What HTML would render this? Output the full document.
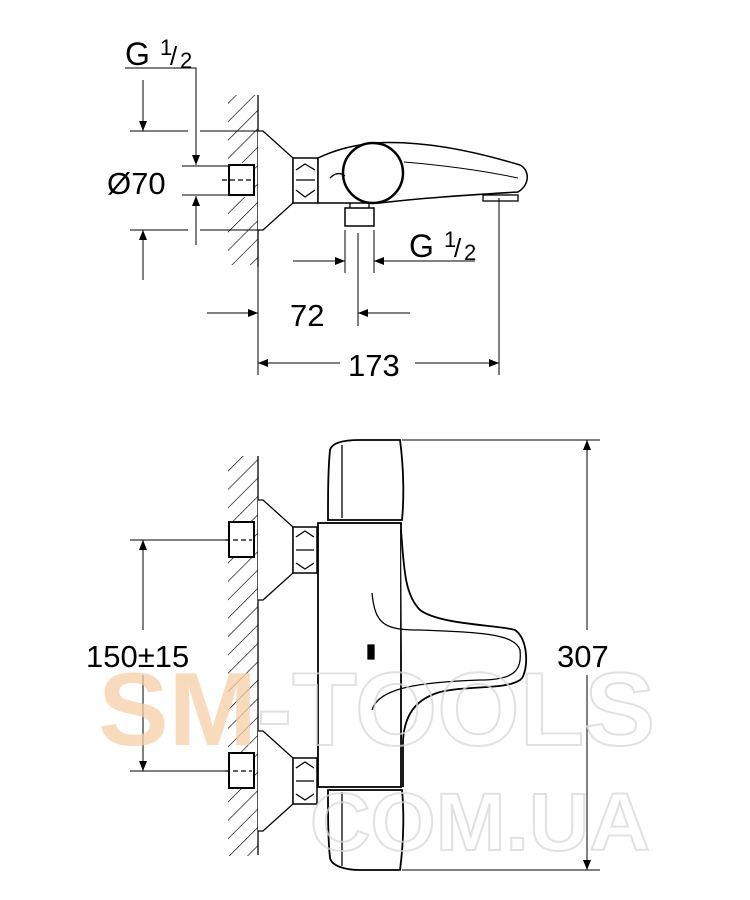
<!DOCTYPE html>
<html><head><meta charset="utf-8"><style>html,body{margin:0;padding:0;background:#fff}svg{display:block}</style></head>
<body>
<svg width="750" height="900" viewBox="0 0 750 900" xmlns="http://www.w3.org/2000/svg">
<defs>
<marker id="a" viewBox="0 0 10 10" refX="10" refY="5" markerWidth="14" markerHeight="10" markerUnits="userSpaceOnUse" orient="auto"><path d="M0,1 L10,5 L0,9 Z" fill="#000"/></marker>
<pattern id="h" width="13" height="13" patternUnits="userSpaceOnUse" patternTransform="rotate(45)"><line x1="0" y1="0" x2="0" y2="13" stroke="#000" stroke-width="1.3"/></pattern>
</defs>
<g fill="none" stroke="#000" stroke-width="1.3">
<!-- TOP VIEW -->
<rect x="228" y="95" width="30" height="170" fill="url(#h)" stroke="none"/>
<rect x="229" y="163" width="26" height="34" fill="#fff" stroke="none"/>
<line x1="258" y1="95" x2="258" y2="267"/>
<path d="M258,131 H263 L293,158 V203 L263,230 H258" fill="#fff"/>
<rect x="229" y="165" width="25" height="30" stroke-width="2" fill="#fff"/>
<line x1="222" y1="180" x2="252" y2="180" stroke-dasharray="5,3"/>
<rect x="293" y="158" width="25" height="45" fill="#fff" stroke-width="1.5"/>
<path d="M296,170 L305,164 L315,170 M296,190 L305,197 L315,190 M296,180 H315"/>
<path d="M318,158 C335,150 350,146 373,143 C420,140 470,150 520,165 C530,170 530,185 518,192 C470,195 420,198 380,203 L318,203 Z" fill="#fff" stroke-width="1.5"/>
<circle cx="373" cy="173" r="30" stroke-width="2.5" fill="#fff"/>
<path d="M330,178 C335,173 340,172 345,176"/>
<path d="M404,162 C440,165 480,170 518,178" stroke-width="1"/>
<rect x="345" y="208" width="29" height="18" stroke-width="1.5" fill="#fff"/>
<path d="M350,203 V208 M369,203 V208"/>
<rect x="483" y="195" width="35" height="6" fill="#fff"/>
<!-- dims top -->
<path d="M125,68 H196 V165" marker-end="url(#a)" stroke-width="1"/>
<g stroke-width="1">
<line x1="143" y1="80" x2="143" y2="131" marker-end="url(#a)"/>
<line x1="143" y1="280" x2="143" y2="230" marker-end="url(#a)"/>
<line x1="130" y1="131" x2="188" y2="131"/><line x1="200" y1="131" x2="260" y2="131"/>
<line x1="130" y1="230" x2="188" y2="230"/><line x1="200" y1="230" x2="260" y2="230"/>
<line x1="182" y1="166" x2="229" y2="166"/><line x1="182" y1="195" x2="229" y2="195"/>
<line x1="196" y1="245" x2="196" y2="196" marker-end="url(#a)"/>
<line x1="345" y1="230" x2="345" y2="273"/><line x1="374" y1="230" x2="374" y2="273"/>
<line x1="293" y1="261" x2="345" y2="261" marker-end="url(#a)"/>
<path d="M475,261 H374" marker-end="url(#a)"/>
<line x1="258" y1="267" x2="258" y2="375"/>
<line x1="207" y1="313" x2="258" y2="313" marker-end="url(#a)"/>
<line x1="358" y1="233" x2="358" y2="326"/>
<line x1="410" y1="313" x2="358" y2="313" marker-end="url(#a)"/>
<line x1="499" y1="198" x2="499" y2="375"/>
<line x1="340" y1="363" x2="258" y2="363" marker-end="url(#a)"/>
<line x1="415" y1="363" x2="499" y2="363" marker-end="url(#a)"/>
</g>
<!-- BOTTOM VIEW -->
<rect x="228" y="456" width="30" height="400" fill="url(#h)" stroke="none"/>
<line x1="258" y1="456" x2="258" y2="855"/>
<g id="fl">
<path d="M258,500 H263 L293,527 V573 L263,600 H258" fill="#fff"/>
<rect x="229" y="522" width="25" height="35" stroke-width="2" fill="#fff"/>
<line x1="225" y1="540" x2="252" y2="540" stroke-dasharray="5,3"/>
<rect x="293" y="527" width="24" height="46" fill="#fff" stroke-width="1.5"/>
<path d="M296,537 L305,531 L314,537 M296,563 L305,569 L314,563 M296,550 H314"/>
</g>
<use href="#fl" transform="translate(0,231)"/>
<path d="M330,450 C332,442 345,440 360,440 H400 C404,470 404,500 402,520 H328 C328,495 328,470 330,450 Z" fill="#fff" stroke-width="1.8"/>
<line x1="342" y1="445" x2="342" y2="518"/>
<path d="M330,858 C332,866 345,870 360,870 H400 C404,840 404,810 402,790 H328 C328,815 328,840 330,858 Z" fill="#fff" stroke-width="1.8"/>
<line x1="342" y1="792" x2="342" y2="866"/>
<rect x="318" y="523" width="83" height="264" fill="#fff" stroke-width="1.8"/>
<path d="M401,530 C404,570 405,595 420,610 C440,625 500,625 515,630 C530,640 528,675 520,680 C505,690 470,685 440,692 C420,698 405,710 403,740 V787" fill="#fff" stroke-width="1.8"/>
<path d="M372,593 C375,625 385,630 420,630 C480,632 515,634 520,650 C522,670 515,680 480,680 C420,682 378,688 372,710"/>
<path d="M368,645 h6 v14 h-6 z" fill="#000"/>
<g stroke-width="1">
<line x1="130" y1="540" x2="228" y2="540"/><line x1="130" y1="771" x2="228" y2="771"/>
<line x1="143" y1="630" x2="143" y2="540" marker-end="url(#a)"/>
<line x1="143" y1="675" x2="143" y2="771" marker-end="url(#a)"/>
<line x1="402" y1="440" x2="600" y2="440"/><line x1="402" y1="870" x2="600" y2="870"/>
<line x1="587" y1="630" x2="587" y2="440" marker-end="url(#a)"/>
<line x1="587" y1="675" x2="587" y2="870" marker-end="url(#a)"/>
</g>
</g>
<g font-family="Liberation Sans, sans-serif" fill="#000">
<text x="125" y="65" font-size="32">G</text><text x="160" y="55" font-size="22">1</text><text x="170" y="65" font-size="26">/</text><text x="180" y="68" font-size="22">2</text>
<text x="409" y="257" font-size="32">G</text><text x="444" y="247" font-size="22">1</text><text x="454" y="257" font-size="26">/</text><text x="464" y="260" font-size="22">2</text>
<text x="107" y="194" font-size="31">Ø70</text>
<text x="290" y="326" font-size="31">72</text>
<text x="348" y="376" font-size="31">173</text>
<text x="86" y="667" font-size="31">150±15</text>
<text x="557" y="667" font-size="31">307</text>
</g>
<!-- watermark on top -->
<g font-family="Liberation Sans, sans-serif" font-weight="bold" opacity="0.75">
<text x="98" y="745" font-size="104" textLength="557" lengthAdjust="spacingAndGlyphs" fill="none" stroke="#d8d8d8" stroke-width="2"><tspan fill="#f6cfa8" stroke="none">SM</tspan>-TOOLS</text>
<text x="310" y="850" font-size="82" textLength="340" lengthAdjust="spacingAndGlyphs" fill="none" stroke="#d8d8d8" stroke-width="2">COM.UA</text>
</g>
</svg>
</body></html>
